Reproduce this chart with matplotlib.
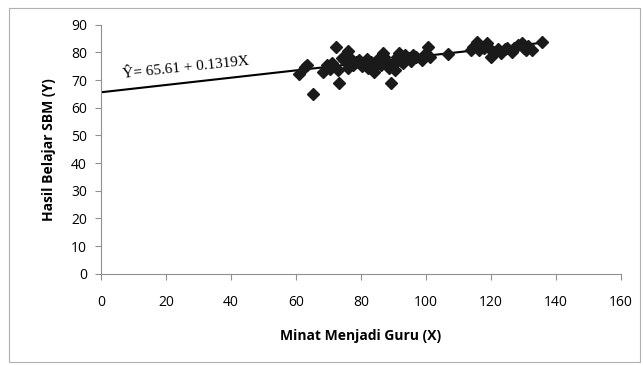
import matplotlib.pyplot as plt
import numpy as np

# scatter data
minat = [60.8, 62.7, 63.5, 65.2, 68.4, 69.6, 70.5, 71.0, 72.2, 72.8, 73.2, 74.0, 74.7,
         75.9, 75.9, 76.8, 77.5, 78.5, 79.3, 80.2, 81.0, 81.8, 82.2, 83.0, 84.1, 84.8,
         85.5, 86.0, 86.7, 87.2, 87.9, 88.5, 89.2, 90.0, 90.4, 91.0, 91.7, 92.3, 92.9,
         93.6, 94.8, 95.5, 96.1, 97.0, 98.6, 99.5, 100.5, 101.1, 106.8, 113.7, 114.5,
         115.6, 116.2, 116.9, 117.8, 118.8, 119.5, 120.0, 121.3, 122.0, 123.2, 124.2,
         125.0, 126.3, 127.2, 128.2, 129.5, 130.1, 130.7, 131.5, 132.7, 135.8]
hasil = [72.2, 74.9, 75.3, 64.9, 73.0, 75.5, 74.0, 76.2, 82.1, 73.5, 69.1, 78.0, 77.3,
         80.7, 74.3, 77.8, 75.5, 76.7, 77.2, 75.0, 76.1, 77.5, 74.3, 76.5, 73.1, 75.8,
         77.9, 75.5, 79.7, 78.2, 76.7, 74.5, 69.1, 76.0, 73.7, 78.5, 79.7, 77.0, 76.1,
         79.0, 78.0, 76.8, 79.2, 78.5, 77.3, 79.0, 82.1, 78.5, 79.5, 80.9, 82.0,
         83.9, 81.0, 82.1, 81.5, 83.3, 81.8, 78.5, 80.3, 81.2, 79.7, 81.3,
         81.5, 80.3, 81.8, 82.7, 83.3, 81.5, 80.9, 82.2, 80.9, 83.9]

a, b = 65.61, 0.1319
x_line = np.array([0, 136])

fig = plt.figure(figsize=(6.43, 3.65), dpi=100)
fig.patches.append(plt.Rectangle((0.014, 0.008), 0.982, 0.97, transform=fig.transFigure,
                                 fill=False, edgecolor='#b0b0b0', linewidth=0.8))
ax = fig.add_axes([0.157, 0.25, 0.809, 0.682])

ax.plot(x_line, a + b * x_line, color='black', linewidth=1.5, zorder=2)
ax.plot(minat, hasil, linestyle='none', marker='D', markersize=6.5,
        color='#1a1a1a', zorder=3)

ax.text(26, 74.3, 'Ŷ= 65.61 + 0.1319X', family='Liberation Serif', fontsize=11,
        rotation=6, ha='center', va='center')

ax.set_xlim(0, 160)
ax.set_ylim(0, 90)
ax.set_xticks(range(0, 161, 20))
ax.set_yticks(range(0, 91, 10))
for side in ['top', 'right']:
    ax.spines[side].set_visible(False)
for side in ['left', 'bottom']:
    ax.spines[side].set_color('#909090')
ax.tick_params(axis='y', direction='out', length=4, color='#909090', labelsize=10, pad=6)
ax.tick_params(axis='x', direction='out', length=4, color='#909090', labelsize=10, pad=11)
for lab in ax.get_xticklabels() + ax.get_yticklabels():
    lab.set_family('Open Sans')

ax.set_xlabel('Minat Menjadi Guru (X)', family='Open Sans', fontweight='bold',
              fontsize=10, labelpad=14)
ax.set_ylabel('Hasil Belajar SBM (Y)', family='Open Sans', fontweight='bold',
              fontsize=10, labelpad=11)

fig.savefig('out.png', dpi=100)
